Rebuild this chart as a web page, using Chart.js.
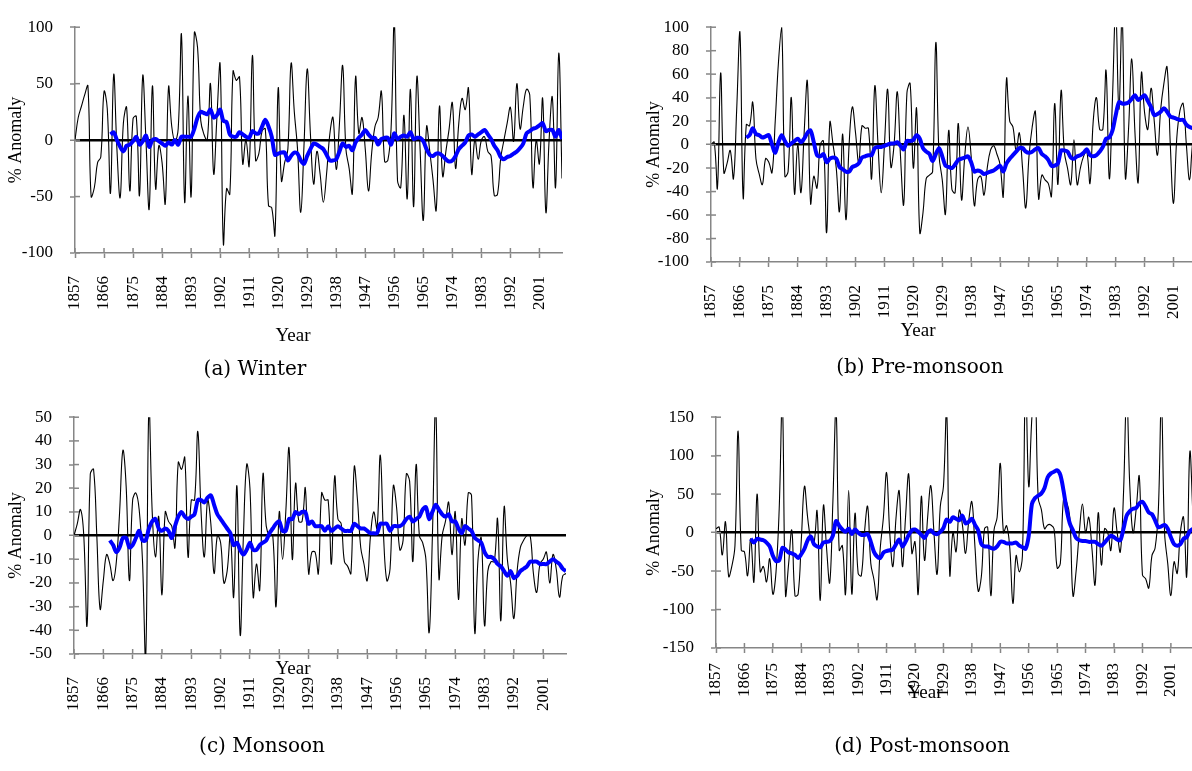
<!DOCTYPE html>
<html>
<head>
<meta charset="utf-8">
<script src="https://cdn.jsdelivr.net/npm/chart.js@4.4.1/dist/chart.umd.min.js"></script>
<style>
body{margin:0;width:1192px;height:771px;overflow:hidden;background:#fff;position:relative;font-family:'Liberation Serif',serif;}
canvas{position:absolute;}
.cap{position:absolute;font-family:'DejaVu Serif',serif;font-size:20px;transform:translate(-50%,-50%);white-space:nowrap;color:#000;}
.xt{position:absolute;font-family:'Liberation Serif',serif;font-size:19px;transform:translate(-50%,-50%);white-space:nowrap;color:#000;}
</style>
</head>
<body>
<canvas id="cA" width="600" height="350" style="left:0;top:0"></canvas>
<canvas id="cB" width="600" height="350" style="left:630px;top:0"></canvas>
<canvas id="cC" width="600" height="340" style="left:0;top:390px"></canvas>
<canvas id="cD" width="600" height="340" style="left:630px;top:390px"></canvas>
<div class="xt" style="left:293px;top:335px">Year</div>
<div class="xt" style="left:918px;top:330px">Year</div>
<div class="xt" style="left:293px;top:668px">Year</div>
<div class="xt" style="left:925px;top:692px">Year</div>
<div class="cap" style="left:255px;top:368px">(a) Winter</div>
<div class="cap" style="left:920px;top:366px">(b) Pre-monsoon</div>
<div class="cap" style="left:262px;top:745px">(c) Monsoon</div>
<div class="cap" style="left:922px;top:745px">(d) Post-monsoon</div>
<script>
// years 1857..2008
var firstYear = 1857, lastYear = 2008;
var tickYears = [1857,1866,1875,1884,1893,1902,1911,1920,1929,1938,1947,1956,1965,1974,1983,1992,2001];

// winter % anomaly (thin black) and moving average (blue)
var winterAnnual = [0,20,30,40,48,-50,-42,-20,-15,43,
 28,-47,58,-8,-51,15,29,-45,19,21,
 -49,57,0,-61,48,-43,-5,-20,-56,47,
 12,-1,10,94,-55,39,-50,95,82,17,
 5,0,50,-30,20,67,-92,-43,-48,61,
 53,56,-21,0,-23,75,-18,-12,8,10,
 -58,-60,-84,46,-36,-20,-8,68,25,-8,
 -64,-5,63,5,-39,-10,-30,-55,-30,5,
 20,-26,15,66,-8,-25,-47,56,6,20,
 -8,-45,-11,12,20,43,-19,-18,10,105,
 -36,-42,22,-52,45,-59,56,-8,-71,12,
 -10,-35,-62,30,-32,-10,10,33,-25,15,
 37,27,46,-30,1,-17,0,3,-10,-14,
 -49,-48,-16,0,15,29,-1,50,10,30,
 45,40,-42,0,-21,37,-64,0,38,-42,
 77,-34];
var winterMean = [null,null,null,null,null,null,null,null,null,null,null,
 5,7,0,-6,-10,-5,-4,-1,3,
 -4,-1,4,-6,0,1,-1,-3,-5,-2,
 -4,0,-4,3,3,3,3,10,20,25,
 24,23,27,20,22,27,17,16,5,3,
 3,7,5,3,2,8,6,6,12,18,
 12,3,-13,-12,-11,-11,-18,-14,-11,-12,
 -18,-21,-14,-8,-3,-4,-6,-8,-13,-18,
 -18,-17,-10,-3,-6,-5,-9,-2,2,5,
 9,5,2,2,-4,1,2,2,-4,6,
 1,3,4,3,7,1,2,2,-1,-8,
 -13,-14,-12,-12,-14,-17,-19,-18,-14,-8,
 -5,-2,4,5,3,5,7,9,5,1,
 -5,-9,-15,-17,-15,-14,-12,-10,-7,-3,
 6,8,10,11,13,15,8,9,9,3,
 9,1];

// pre-monsoon
var preAnnual = [0,2,-37,61,-24,-16,-5,-29,30,96,
 -45,17,16,36,-12,-25,-34,-12,-15,-24,
 20,70,100,-27,-23,40,-42,0,-41,10,
 54,-50,-27,-37,0,3,-75,19,0,-20,
 -57,9,-64,0,32,10,-15,16,14,14,
 -29,50,0,-41,0,47,-19,0,45,-10,
 -51,44,52,-20,31,-75,-58,-29,-26,-23,
 87,-9,-30,-59,12,-38,-41,18,-47,-10,
 15,-10,-52,-30,-27,-43,-20,-5,-1,-8,
 -17,-44,56,20,15,-5,10,-20,-54,-10,
 15,28,-46,-26,-30,-33,-44,35,-34,46,
 -6,-20,-34,4,-34,-20,-10,-6,-33,20,
 40,13,13,63,-29,40,115,30,110,-28,
 13,73,10,-32,61,27,13,48,20,-9,
 30,52,66,0,-50,5,29,35,0,-30,
 2,10];
var preMean = [null,null,null,null,null,null,null,null,null,null,null,
 6,8,14,9,8,6,7,8,0,
 -7,2,8,3,-1,1,3,5,2,5,
 10,12,2,-9,-10,-8,-15,-12,-11,-12,
 -19,-21,-23,-23,-19,-18,-16,-11,-10,-9,
 -9,-3,-2,-2,-1,0,1,1,2,-1,
 -4,3,3,4,8,5,-3,-6,-8,-14,
 -8,-3,-10,-18,-19,-20,-17,-13,-12,-11,
 -10,-15,-23,-22,-23,-25,-24,-23,-22,-20,
 -18,-23,-16,-12,-9,-6,-3,-3,-6,-7,
 -6,-4,-3,-8,-10,-13,-18,-18,-16,-5,
 -5,-6,-11,-12,-10,-9,-7,-4,-9,-10,
 -9,-6,-2,5,6,12,25,36,35,35,
 36,39,42,38,40,42,37,32,25,26,
 28,31,28,24,23,22,21,21,17,15,
 14,13];

// monsoon
var monAnnual = [0,5,11,0,-38,26,28,0,-31,-19,
 -8,-12,-19,-11,10,36,21,-19,15,18,
 11,-10,-52,55,10,-9,8,-25,10,6,
 4,-5,31,28,33,-9,15,15,44,10,
 -9,15,5,-16,0,-3,-20,-15,0,-26,
 21,-42,0,30,20,-26,-12,-23,26,4,
 0,0,-30,10,-10,10,37,-10,22,6,
 6,20,-16,-7,-7,-16,18,15,15,-12,
 25,7,5,-11,-13,-16,29,15,-5,-12,
 -19,0,10,3,34,0,-19,-14,21,12,
 -6,-2,26,23,-11,30,0,-3,-10,-41,
 0,55,-18,0,6,14,-8,10,-27,7,
 -4,18,17,-41,-10,-1,-38,-15,-11,-11,
 7,-36,12,-10,-20,-35,-15,-5,-2,0,
 0,-16,-24,-12,-10,-7,-20,-8,-14,-26,
 -17,-16];
var monMean = [null,null,null,null,null,null,null,null,null,null,null,
 -2,-4,-7,-5,-1,-1,-5,-4,-1,
 2,-2,-2,3,6,7,3,2,3,2,
 -1,4,8,10,8,7,8,9,15,15,
 14,16,17,13,9,7,5,3,1,-4,
 -3,-6,-8,-6,-3,-6,-6,-4,-3,-2,
 1,3,5,6,2,2,7,7,10,9,
 10,10,5,6,4,4,4,2,4,2,
 3,4,3,2,2,2,5,4,3,3,
 2,1,1,1,5,5,5,2,4,4,
 4,5,7,8,6,7,8,11,12,7,
 10,13,11,9,8,9,6,6,3,1,
 4,3,2,-1,-2,-3,-7,-9,-9,-10,
 -12,-13,-15,-17,-15,-18,-17,-15,-14,-13,
 -11,-11,-11,-12,-12,-12,-11,-10,-11,-12,
 -14,-15];

// post-monsoon
var postAnnual = [5,7,-29,14,-57,-44,-17,132,-23,-25,
 -56,-8,-64,50,-51,-44,-64,-34,-80,-51,
 30,170,-81,-40,3,-82,-80,-10,60,20,
 -8,-14,28,-88,35,-20,-65,40,160,-23,
 -17,-80,55,-80,25,-53,-56,0,34,-40,
 -61,-87,-20,20,78,0,-44,20,54,-44,
 20,76,-27,-12,-80,47,-36,20,61,0,
 -54,34,60,160,-55,0,-25,29,10,-27,
 15,40,-20,-76,-57,5,7,-82,3,20,
 90,0,9,-20,-92,-30,-51,-30,200,60,
 150,190,45,30,5,10,10,5,-46,-40,
 43,40,20,-82,-50,0,37,0,20,-20,
 -68,26,-42,5,0,-23,32,0,-25,51,
 180,60,0,30,73,-55,-60,-72,-30,-20,
 26,170,0,-40,-82,-38,-53,0,20,-57,
 105,20];
var postMean = [null,null,null,null,null,null,null,null,null,null,null,
 -8,-13,-8,-9,-10,-13,-18,-30,-37,
 -36,-20,-22,-26,-27,-29,-33,-28,-21,-10,
 -5,-15,-18,-19,-13,-12,-11,-4,15,9,
 4,1,5,-2,4,0,-3,-3,-2,-12,
 -25,-31,-33,-26,-24,-23,-22,-15,-9,-18,
 -12,-3,3,4,1,-3,-7,0,3,-1,
 -2,1,6,17,14,20,18,16,22,12,
 14,18,10,3,-15,-18,-18,-20,-21,-18,
 -12,-12,-14,-14,-14,-13,-17,-19,-21,-4,
 37,45,48,51,58,72,77,79,81,75,
 55,30,12,3,-7,-10,-11,-11,-12,-12,
 -12,-15,-17,-13,-8,-4,-6,-9,-10,5,
 22,28,31,32,38,40,34,26,24,16,
 7,8,10,5,-6,-15,-17,-15,-8,-6,
 2,5];

var years = [];
for (var y = firstYear; y <= lastYear; y++) years.push(y);

function pts(arr){
  return years.map(function(yr, i){ return {x: yr, y: arr[i]}; });
}

// small inner half of the cross tick marks
var crossTicks = {
  id: 'crossTicks',
  afterDraw: function(chart){
    var ctx = chart.ctx, a = chart.chartArea;
    ctx.save();
    ctx.strokeStyle = '#868686';
    ctx.lineWidth = 1.5;
    chart.scales.y.ticks.forEach(function(t){
      var p = chart.scales.y.getPixelForValue(t.value);
      ctx.beginPath(); ctx.moveTo(a.left, p); ctx.lineTo(a.left + 5, p); ctx.stroke();
    });
    chart.scales.x.ticks.forEach(function(t){
      var p = chart.scales.x.getPixelForValue(t.value);
      ctx.beginPath(); ctx.moveTo(p, a.bottom); ctx.lineTo(p, a.bottom - 5); ctx.stroke();
    });
    ctx.restore();
  }
};

function makePanel(id, annual, mean, ymin, ymax, ystep, lay){
  var fontTick = {family: 'Liberation Serif', size: 17};
  return new Chart(document.getElementById(id), {
    type: 'line',
    data: {
      datasets: [
        {data: pts(mean), borderColor: '#0000ff', borderWidth: 4, pointRadius: 0, tension: 0.3, spanGaps: false},
        {data: pts(annual), borderColor: '#000000', borderWidth: 1.1, pointRadius: 0, tension: 0.4}
      ]
    },
    options: {
      responsive: false,
      animation: false,
      devicePixelRatio: 1,
      layout: {padding: {left: 0, top: lay.top, right: lay.right, bottom: lay.bottom}},
      plugins: {legend: {display: false}, tooltip: {enabled: false}},
      scales: {
        x: {
          type: 'linear', min: firstYear, max: lastYear,
          afterBuildTicks: function(s){ s.ticks = tickYears.map(function(v){ return {value: v}; }); },
          afterFit: function(s){ s.height = 60; },
          ticks: {autoSkip: false, minRotation: 90, maxRotation: 90, padding: lay.xpad, color: '#000', font: fontTick,
                  callback: function(v){ return String(v); }},
          grid: {drawOnChartArea: false, tickLength: 5, tickColor: '#868686', tickWidth: 1.5},
          border: {color: '#868686', width: 1.5}
        },
        y: {
          min: ymin, max: ymax,
          afterFit: function(s){ s.width = lay.yw; },
          ticks: {stepSize: ystep, padding: 17, color: '#000', font: fontTick},
          grid: {
            color: function(c){ return c.tick && c.tick.value === 0 ? '#000' : 'rgba(0,0,0,0)'; },
            lineWidth: function(c){ return c.tick && c.tick.value === 0 ? 2.5 : 0; },
            tickLength: 5, tickColor: '#868686', tickWidth: 1.5
          },
          border: {color: '#868686', width: 1.5},
          title: {display: true, text: '% Anomaly', color: '#000', font: {family: 'Liberation Serif', size: 18},
                  padding: {top: lay.tpad, bottom: 0}}
        }
      }
    },
    plugins: [crossTicks]
  });
}

makePanel('cA', winterAnnual, winterMean, -100, 100, 50, {yw: 75, top: 18, right: 38, bottom: 37, xpad: 18, tpad: 5});
makePanel('cB', preAnnual, preMean, -100, 100, 20, {yw: 81, top: 23, right: 34, bottom: 28, xpad: 18, tpad: 13});
makePanel('cC', monAnnual, monMean, -50, 50, 10, {yw: 74, top: 23, right: 34, bottom: 16, xpad: 18, tpad: 5});
makePanel('cD', postAnnual, postMean, -150, 150, 50, {yw: 86, top: 22, right: 37, bottom: 22, xpad: 10, tpad: 13});
</script>
</body>
</html>
